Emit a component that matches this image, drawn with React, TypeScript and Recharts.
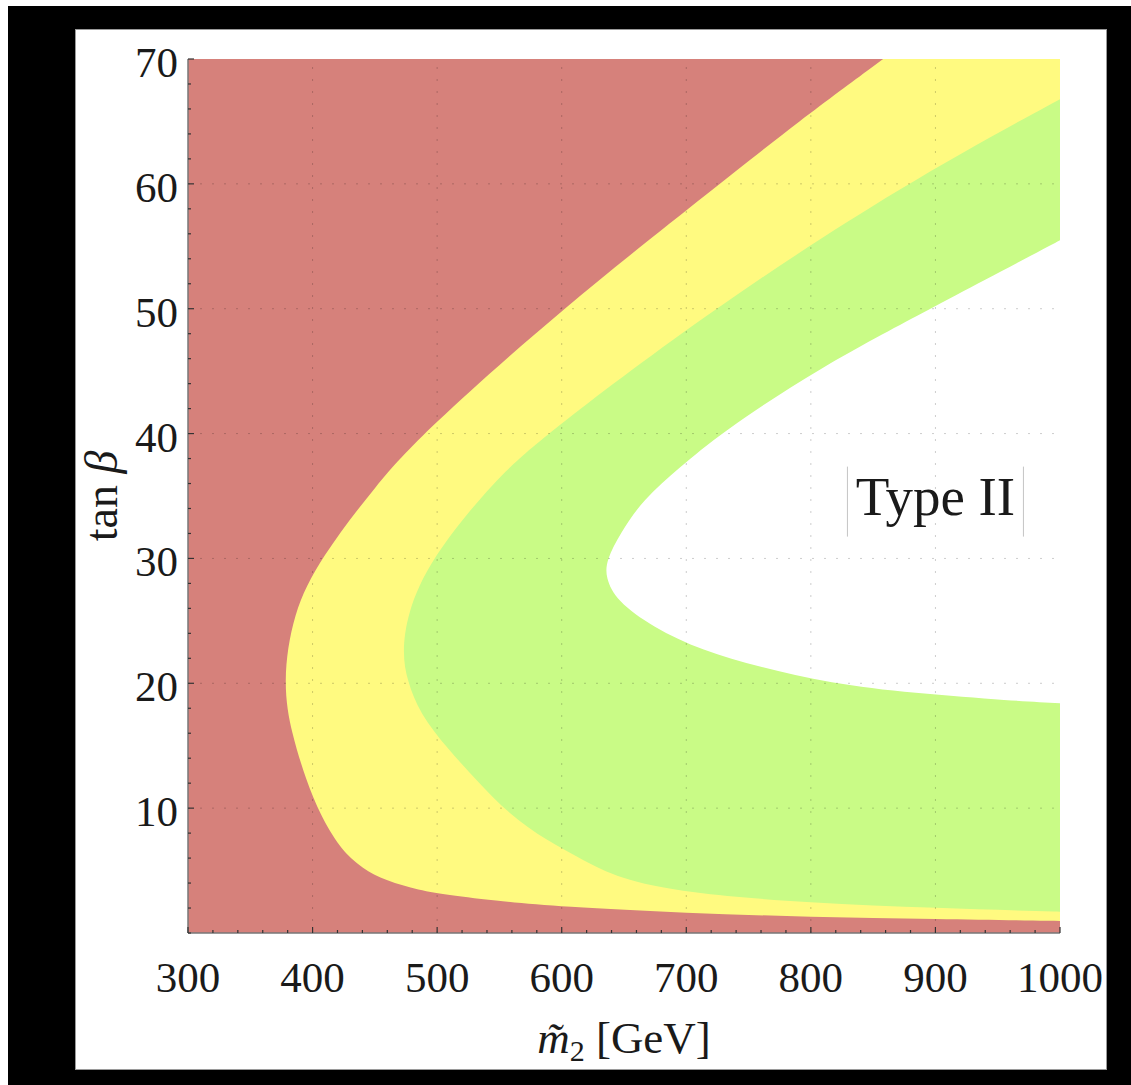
import React from "react";
import {
  ComposedChart,
  Area,
  XAxis,
  YAxis,
  ReferenceLine,
  ReferenceDot,
} from "recharts";

// region boundaries, as [tan beta, m2 in GeV]
// values past 1000 carry the edge on past the frame so it leaves the plot smoothly
// red | yellow
const redEdge: [number, number][] = [
  [0, 1150], [0.9, 1040], [0.96, 1000], [1.12, 900], [1.28, 800], [1.6, 700],
  [2.1, 600], [2.6, 545], [3.1, 503], [3.6, 479], [4.4, 453], [5.5, 436],
  [6.8, 422], [9.5, 406], [12.2, 395], [16, 383], [20, 376], [25.6, 384],
  [30, 406], [36, 452], [40, 488], [50, 600], [60, 727], [65, 790], [70, 858],
];

// yellow | green
const yellowEdge: [number, number][] = [
  [0, 1150], [1.5, 1070], [1.7, 1000], [2.0, 900], [2.4, 800], [3.2, 699],
  [4.4, 645], [5.8, 618], [7.4, 588], [9.5, 558], [12.2, 532], [14.8, 508],
  [17.6, 486], [20.2, 476], [22.4, 472], [25.6, 476], [29.9, 494], [36.3, 546],
  [40, 588], [50, 721], [60, 875], [66.8, 1000], [70, 1060],
];

// green | white
const greenEdge: [number, number][] = [
  [0, 1200], [17.9, 1110], [18.2, 1045], [18.4, 1000], [18.6, 962], [19.2, 882],
  [20, 815], [21.3, 759], [22.6, 713], [24.5, 673], [26.6, 644], [28.5, 635],
  [29.9, 636], [32, 647], [34.7, 665], [37.3, 695], [40, 727], [45.3, 807],
  [50.1, 898], [52.1, 936], [55.5, 1000], [57.5, 1040], [60, 1090], [70, 1200],
];

const xMajorTicks = [300, 400, 500, 600, 700, 800, 900, 1000];
const yMajorTicks = [10, 20, 30, 40, 50, 60, 70];
const xGridLines = [400, 500, 600, 700, 800, 900];
const yGridLines = [10, 20, 30, 40, 50, 60];

const typeLabel = "Type II";
const typeLabelAt = { m: 900, tb: 34.55 };

const steps = (from: number, to: number, step: number) => {
  const out: number[] = [];
  for (let v = from; v <= to + 1e-9; v += step) out.push(Math.round(v * 100) / 100);
  return out;
};
const xTicks = steps(300, 1000, 20);
const yTicks = steps(0, 70, 2);

const tbValues = Array.from(
  new Set([...redEdge, ...yellowEdge, ...greenEdge].map((p) => p[0]))
).sort((a, b) => a - b);
const lookup = (edge: [number, number][], tb: number) => {
  const p = edge.find((e) => e[0] === tb);
  return p ? p[1] : null;
};
const data = tbValues.map((tb) => ({
  tb,
  red: lookup(redEdge, tb),
  yellow: lookup(yellowEdge, tb),
  green: lookup(greenEdge, tb),
}));

const RED = "#d6817b";
const YELLOW = "#fffa80";
const GREEN = "#c9fb86";
const FONT = "'Liberation Serif', 'Times New Roman', serif";
const TEXT = "#1a1a1a";
const TICK = "#333";
const FRAME = { stroke: "#777", strokeWidth: 1.5 };
const MAJOR = 6;
const MINOR = 3;

const renderBottomTick = (props: any) => {
  const { x, y, payload } = props;
  const major = xMajorTicks.includes(payload.value);
  return (
    <g>
      <line x1={x} x2={x} y1={y} y2={y - (major ? MAJOR : MINOR)} stroke={TICK} strokeWidth={1.2} />
      {major && (
        <text x={x} y={y + 59} textAnchor="middle" fontFamily={FONT} fontSize={43} fill={TEXT}>
          {payload.value}
        </text>
      )}
    </g>
  );
};

const renderTopTick = (props: any) => {
  const { x, y, payload } = props;
  const major = xMajorTicks.includes(payload.value);
  return <line x1={x} x2={x} y1={y} y2={y + (major ? MAJOR : MINOR)} stroke={TICK} strokeWidth={1.2} />;
};

const renderLeftTick = (props: any) => {
  const { x, y, payload } = props;
  const major = yMajorTicks.includes(payload.value);
  return (
    <g>
      <line x1={x} x2={x + (major ? MAJOR : MINOR)} y1={y} y2={y} stroke={TICK} strokeWidth={1.2} />
      {major && (
        <text x={x - 10} y={y + 18} textAnchor="end" fontFamily={FONT} fontSize={43} fill={TEXT}>
          {payload.value}
        </text>
      )}
    </g>
  );
};

const renderRightTick = (props: any) => {
  const { x, y, payload } = props;
  const major = yMajorTicks.includes(payload.value) || payload.value === 0;
  return <line x1={x} x2={x - (major ? MAJOR : MINOR)} y1={y} y2={y} stroke={TICK} strokeWidth={1.2} />;
};

const renderXTitle = (props: any) => {
  const { viewBox } = props;
  const cx = viewBox.x + viewBox.width / 2;
  const base = viewBox.y + 120;
  return (
    <text x={cx} y={base} textAnchor="middle" fontFamily={FONT} fontSize={45} fill={TEXT}>
      <tspan fontStyle="italic">{"m\u0303"}</tspan>
      <tspan fontSize={30} dy={8}>2</tspan>
      <tspan dy={-8}> [GeV]</tspan>
    </text>
  );
};

const renderYTitle = (props: any) => {
  const { viewBox } = props;
  const bx = viewBox.x + 42;
  const cy = viewBox.y + viewBox.height / 2;
  return (
    <text
      x={bx}
      y={cy}
      transform={`rotate(-90, ${bx}, ${cy})`}
      textAnchor="middle"
      fontFamily={FONT}
      fontSize={46}
      fill={TEXT}
    >
      tan <tspan fontStyle="italic">β</tspan>
    </text>
  );
};

const renderTypeLabel = (props: any) => {
  const { cx, cy } = props;
  return (
    <g>
      <line x1={cx - 88} x2={cx - 88} y1={cy - 35} y2={cy + 35} stroke="#c4c4c4" strokeWidth={1} />
      <line x1={cx + 88} x2={cx + 88} y1={cy - 35} y2={cy + 35} stroke="#c4c4c4" strokeWidth={1} />
      <text x={cx} y={cy + 13} textAnchor="middle" fontFamily={FONT} fontSize={55} fill={TEXT}>
        {typeLabel}
      </text>
    </g>
  );
};

const App = () => {
  return (
    <div style={{ position: "absolute", left: 8, top: 6, width: 1123, height: 1079, background: "#000" }}>
      <div
        style={{
          position: "absolute",
          left: 67,
          top: 23,
          width: 1032,
          height: 1041,
          background: "#fff",
          boxShadow: "inset 0 0 0 1px #9a9a9a",
        }}
      >
        <ComposedChart
          layout="vertical"
          width={1032}
          height={1041}
          data={data}
          margin={{ top: 30, right: 47, bottom: 0, left: 0 }}
        >
          <Area dataKey="green" type="basis" fill={GREEN} fillOpacity={1} stroke="none" connectNulls isAnimationActive={false} />
          <Area dataKey="yellow" type="basis" fill={YELLOW} fillOpacity={1} stroke="none" connectNulls isAnimationActive={false} />
          <Area dataKey="red" type="basis" fill={RED} fillOpacity={1} stroke="none" connectNulls isAnimationActive={false} />

          {xGridLines.map((v) => (
            <ReferenceLine key={`gx${v}`} x={v} stroke="#000" strokeOpacity={0.2} strokeDasharray="2 10" />
          ))}
          {yGridLines.map((v) => (
            <ReferenceLine key={`gy${v}`} y={v} stroke="#000" strokeOpacity={0.2} strokeDasharray="2 10" />
          ))}

          <ReferenceDot x={typeLabelAt.m} y={typeLabelAt.tb} r={1} shape={renderTypeLabel} />

          <XAxis
            type="number"
            domain={[300, 1000]}
            allowDataOverflow
            ticks={xTicks}
            interval={0}
            height={137}
            tickSize={0}
            tickMargin={0}
            tickLine={false}
            tick={renderBottomTick}
            axisLine={FRAME}
            label={{ content: renderXTitle }}
          />
          <XAxis
            xAxisId="top"
            orientation="top"
            type="number"
            domain={[300, 1000]}
            allowDataOverflow
            ticks={xTicks}
            interval={0}
            height={0}
            tickSize={0}
            tickMargin={0}
            tickLine={false}
            tick={renderTopTick}
            axisLine={FRAME}
          />
          <YAxis
            type="number"
            dataKey="tb"
            domain={[0, 70]}
            reversed
            allowDataOverflow
            ticks={yTicks}
            interval={0}
            width={113}
            tickSize={0}
            tickMargin={0}
            tickLine={false}
            tick={renderLeftTick}
            axisLine={FRAME}
            label={{ content: renderYTitle }}
          />
          <YAxis
            yAxisId="right"
            orientation="right"
            type="number"
            domain={[0, 70]}
            reversed
            allowDataOverflow
            ticks={yTicks}
            interval={0}
            width={0}
            tickSize={0}
            tickMargin={0}
            tickLine={false}
            tick={renderRightTick}
            axisLine={FRAME}
          />
        </ComposedChart>
      </div>
    </div>
  );
};

export default App;
